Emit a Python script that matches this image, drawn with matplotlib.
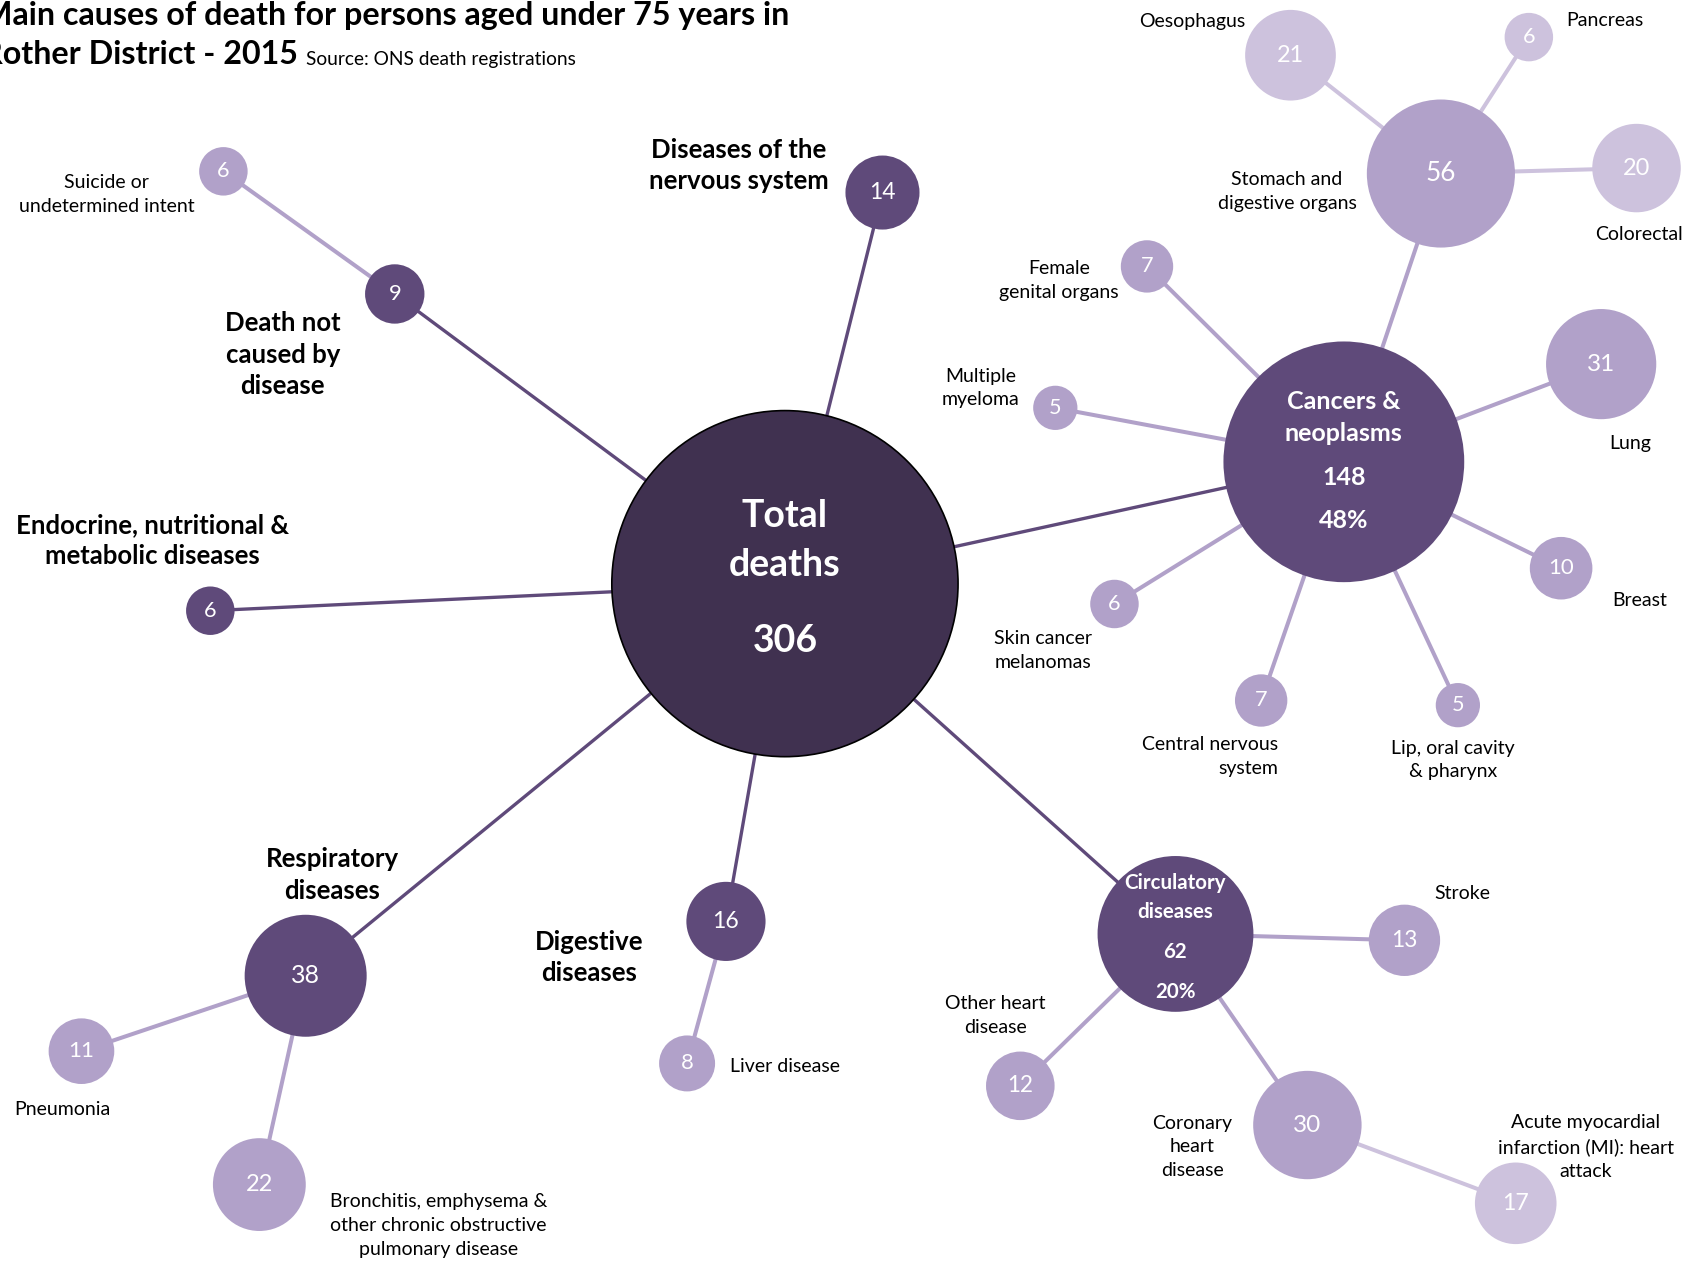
import numpy as np
import matplotlib.pyplot as plt
from matplotlib.patches import Circle

plt.rcParams['font.family'] = ['Lato', 'DejaVu Sans']

# ---- data ----
total_deaths = 306

group_names = ["Cancers &\nneoplasms", "Circulatory\ndiseases", "Respiratory\ndiseases",
               "Digestive\ndiseases", "Diseases of the\nnervous system",
               "Death not\ncaused by\ndisease", "Endocrine, nutritional &\nmetabolic diseases"]
group_values = [148, 62, 38, 16, 14, 9, 6]

sub_names = ["Stomach and\ndigestive organs", "Female\ngenital organs", "Multiple\nmyeloma",
             "Lung", "Breast", "Skin cancer\nmelanomas", "Central nervous\nsystem",
             "Lip, oral cavity\n& pharynx",
             "Stroke", "Other heart\ndisease", "Coronary\nheart\ndisease",
             "Pneumonia", "Bronchitis, emphysema &\nother chronic obstructive\npulmonary disease",
             "Liver disease",
             "Suicide or\nundetermined intent"]
sub_values = [56, 7, 5, 31, 10, 6, 7, 5, 13, 12, 30, 11, 22, 8, 6]
sub_parent = [0, 0, 0, 0, 0, 0, 0, 0, 1, 1, 1, 2, 2, 3, 5]

subsub_names = ["Oesophagus", "Pancreas", "Colorectal",
                "Acute myocardial\ninfarction (MI): heart\nattack"]
subsub_values = [21, 6, 20, 17]
subsub_parent = [0, 0, 0, 10]

# ---- layout (angle in degrees, link length in px, relative to parent) ----
centre = (730, 543)
group_angle = [12.3, -41.9, -140.7, -99.9, 76.0, 143.4, -177.3]
group_dist = [532, 488, 576, 319, 375, 452, 535]
group_label_xy = [None, None, (309, 814), (548, 891), (687, 154), (263, 330), (142, 503)]

sub_angle = [71.4, 135.2, 169.4, 20.8, -26.1, -148.2, -109.1, -64.9,
             -1.6, -135.6, -55.4, -161.4, -102.5, -105.3, 144.4]
sub_dist = [283, 258, 273, 256, 225, 251, 235, 250, 213, 202, 216, 220, 199, 137, 196]
sub_label_xy = [(1197, 178), (985, 261), (912, 361), (1516, 413), (1525, 559),
                (970, 605), (1189, 704), (1351, 707), (1360, 831), (926, 945),
                (1109, 1067), (58, 1032), (408, 1140), (679, 992), (99, 181)]
sub_label_ha = ['center'] * 15
sub_label_ha[6] = 'right'
sub_label_ha[13] = 'left'

subsub_angle = [141.8, 57.2, 1.6, -20.6]
subsub_dist = [178, 151, 182, 207]
subsub_label_xy = [(1109, 20), (1493, 19), (1524, 218), (1475, 1067)]

# ---- colours ----
c_total = '#403150'
c_level1 = '#5f4a7a'
c_level2 = '#b1a1c9'
c_level3 = '#cdc2dd'

R_TOTAL = 161


def radius(v):
    return R_TOTAL * np.sqrt(v / total_deaths)


def place(parent, angle, dist):
    a = np.radians(angle)
    return parent[0] + dist * np.cos(a), parent[1] - dist * np.sin(a)


fig = plt.figure(figsize=(16.86, 12.64), dpi=100)
ax = fig.add_axes([0, 0, 1, 1])
ax.set_xlim(0, 1568)
ax.set_ylim(1176, 0)
ax.axis('off')


def node(xy, value, colour, edge=None, z=2):
    ax.add_patch(Circle(xy, radius(value), facecolor=colour,
                        edgecolor=edge if edge else 'none', lw=1.2, zorder=z))


def link(a, b, colour, lw):
    ax.plot([a[0], b[0]], [a[1], b[1]], color=colour, lw=lw, zorder=1,
            solid_capstyle='butt')


def number(xy, value):
    fs = 14 + 0.07 * radius(value)
    ax.text(xy[0], xy[1], str(value), color='white', fontsize=fs, ha='center',
            va='center', zorder=3)


def label(xy, text, ha='center', bold=False, fs=14):
    ax.text(xy[0], xy[1], text, fontsize=fs, ha=ha, va='center', multialignment=ha,
            fontweight='bold' if bold else 'normal', color='black',
            linespacing=1.37 if bold else 1.48, zorder=3)


def inner(xy, text, dy, fs, ls=1.5):
    ax.text(xy[0], xy[1] + dy, text, color='white', fontsize=fs, fontweight='bold',
            ha='center', va='center', linespacing=ls, zorder=3)


# total
node(centre, total_deaths, c_total, edge='black')
inner(centre, "Total\ndeaths", -40, 27, 1.55)
inner(centre, str(total_deaths), 53, 27)

group_xy = [place(centre, a, d) for a, d in zip(group_angle, group_dist)]
for i, (xy, v) in enumerate(zip(group_xy, group_values)):
    link(centre, xy, c_level1, 2.4)
    node(xy, v, c_level1)
    if group_label_xy[i] is None:
        pct = f"{round(100 * v / total_deaths)}%"
        if v > 100:
            inner(xy, group_names[i], -41.5, 18, 1.49)
            inner(xy, str(v), 15, 18)
            inner(xy, pct, 55, 18)
        else:
            inner(xy, group_names[i], -34, 14.8, 1.53)
            inner(xy, str(v), 17, 14.8)
            inner(xy, pct, 54, 14.8)
    else:
        number(xy, v)
        label(group_label_xy[i], group_names[i], bold=True, fs=18.5)

sub_xy = []
for i, v in enumerate(sub_values):
    parent = group_xy[sub_parent[i]]
    xy = place(parent, sub_angle[i], sub_dist[i])
    sub_xy.append(xy)
    link(parent, xy, c_level2, 2.9)
    node(xy, v, c_level2)
    number(xy, v)
    label(sub_label_xy[i], sub_names[i], ha=sub_label_ha[i])

for i, v in enumerate(subsub_values):
    parent = sub_xy[subsub_parent[i]]
    xy = place(parent, subsub_angle[i], subsub_dist[i])
    link(parent, xy, c_level3, 2.9)
    node(xy, v, c_level3)
    number(xy, v)
    label(subsub_label_xy[i], subsub_names[i])

# title (runs off the left edge as in the source)
ax.text(-17, 14, "Main causes of death for persons aged under 75 years in",
        fontsize=23.2, fontweight='bold', ha='left', va='center')
t2 = ax.text(-17, 51, "Rother District - 2015", fontsize=23.2, fontweight='bold',
             ha='left', va='center')
fig.canvas.draw()
bb = t2.get_window_extent().transformed(ax.transData.inverted())
ax.text(bb.x1 + 8, 55, "Source: ONS death registrations", fontsize=13.8,
        ha='left', va='center')

fig.savefig('out.png', dpi=100)
